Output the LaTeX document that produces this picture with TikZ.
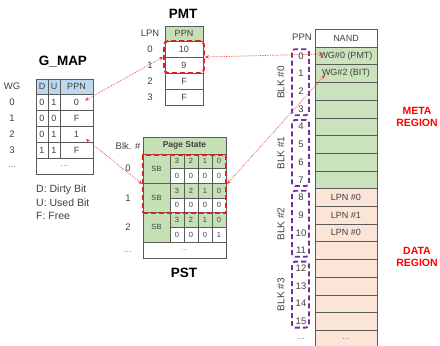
\documentclass[tikz,border=0pt]{standalone}
\usepackage{fontspec}
\setmainfont{Liberation Sans}
\usetikzlibrary{arrows.meta}
\definecolor{hdrgreen}{RGB}{197,224,180}
\definecolor{nandgreen}{RGB}{203,227,188}
\definecolor{hdrblue}{RGB}{189,215,238}
\definecolor{peach}{RGB}{251,229,214}
\definecolor{boxred}{RGB}{228,30,30}
\definecolor{arrred}{RGB}{232,60,60}
\definecolor{purp}{RGB}{112,48,160}
\definecolor{txt}{RGB}{64,64,64}
\definecolor{gridc}{RGB}{90,90,90}
\tikzset{
  cell/.style={draw=gridc, line width=0.6pt, inner sep=0pt, text=txt, font=\fontsize{9}{10}\selectfont},
  small/.style={font=\fontsize{7.5}{8}\selectfont},
  lbl/.style={inner sep=0pt, text=txt, font=\fontsize{9.5}{10}\selectfont},
  legend/.style={inner sep=0pt, text=txt, font=\fontsize{10.5}{12}\selectfont},
  nandtxt/.style={inner sep=0pt, text=txt, font=\fontsize{9}{10}\selectfont},
  title/.style={inner sep=0pt, font=\fontsize{13.5}{15}\selectfont\bfseries},
  region/.style={inner sep=0pt, text=red, font=\fontsize{10.5}{12}\selectfont\bfseries, align=center},
  reddash/.style={draw=boxred, line width=1.9pt, dash pattern=on 5pt off 3pt, inner sep=0pt},
  purpdash/.style={draw=purp, line width=1.8pt, dash pattern=on 5pt off 3pt, rounded corners=3pt, inner sep=0pt, minimum width=17pt, minimum height=66pt},
  biarrow/.style={draw=arrred, densely dotted, line width=0.7pt, {Stealth[length=4pt,width=3.6pt]}-{Stealth[length=4pt,width=3.6pt]}}
}
\begin{document}
\begin{tikzpicture}[x=1pt,y=-1pt]
\useasboundingbox[fill=white] (0,0) rectangle (440,346);

% ---------------- G_MAP ----------------
\node[title] (gtitle) at (63,62) {G\_MAP};
\node[lbl] (wg) at (12,86.5) {WG};
\node[cell, fill=hdrblue, minimum width=12pt, minimum height=15pt] (gD) at (42,86.5) {D};
\node[cell, fill=hdrblue, minimum width=12pt, minimum height=15pt] (gU) at (54,86.5) {U};
\node[cell, fill=hdrblue, minimum width=33pt, minimum height=15pt] (gP) at (76.5,86.5) {PPN};
\foreach \r/\d/\u/\p in {0/0/1/0, 1/0/0/F, 2/0/1/1, 3/1/1/F}{
  \node[lbl] (wg\r) at (12,{102+16*\r}) {\r};
  \node[cell, minimum width=12pt, minimum height=16pt] (gd\r) at (42,{102+16*\r}) {\d};
  \node[cell, minimum width=12pt, minimum height=16pt] (gu\r) at (54,{102+16*\r}) {\u};
  \node[cell, minimum width=33pt, minimum height=16pt] (gp\r) at (76.5,{102+16*\r}) {\p};
}
\node[lbl, text=gray] (wgdots) at (12,167) {...};
\node[cell, text=gray, minimum width=57pt, minimum height=16pt] (gdots) at (64.5,166) {...};
\node[legend, anchor=west] (leg1) at (36,190) {D: Dirty Bit};
\node[legend, anchor=west] (leg2) at (36,203) {U: Used Bit};
\node[legend, anchor=west] (leg3) at (36,216) {F: Free};

% ---------------- PMT ----------------
\node[title] (ptitle) at (183,14) {PMT};
\node[lbl] (lpn) at (150,33.5) {LPN};
\node[cell, fill=hdrgreen, minimum width=38pt, minimum height=15pt] (pH) at (184,33.5) {PPN};
\foreach \r/\v in {0/10, 1/9, 2/F, 3/F}{
  \node[lbl] (lpn\r) at (150,{49+16*\r}) {\r};
  \node[cell, fill=white, minimum width=38pt, minimum height=16pt] (pm\r) at (184,{49+16*\r}) {\v};
}
\node[reddash, rounded corners=4pt, minimum width=40pt, minimum height=32pt] (pmtbox) at (184,57) {};

% ---------------- PST ----------------
\node[lbl] (blk) at (128,146) {Blk. \#};
\node[cell, fill=hdrgreen, minimum width=83pt, minimum height=17pt, font=\fontsize{8.5}{9}\selectfont\bfseries] (psH) at (184.5,145.5) {Page State};
\foreach \b/\last in {0/0, 1/0, 2/1}{
  \node[lbl] (blk\b) at (128,{154+29.33*\b+14.67}) {\b};
  \node[cell, small, fill=hdrgreen, minimum width=27pt, minimum height=29.33pt] (sb\b) at (156.5,{154+29.33*\b+14.67}) {SB};
  \foreach \c/\t/\bot in {0/3/0, 1/2/0, 2/1/0, 3/0/\last}{
    \node[cell, small, fill=hdrgreen, minimum width=14pt, minimum height=14.67pt] (st\b\c) at ({177+14*\c},{154+29.33*\b+7.33}) {\t};
    \node[cell, small, fill=white, minimum width=14pt, minimum height=14.67pt] (sl\b\c) at ({177+14*\c},{154+29.33*\b+22}) {\bot};
  }
}
\node[lbl, text=gray] (blkdots) at (128,252) {...};
\node[cell, small, text=gray, fill=white, minimum width=83pt, minimum height=16pt] (psdots) at (184.5,250) {...};
\node[reddash, minimum width=83pt, minimum height=58pt] (pstbox) at (184.5,184) {};
\node[title] (pstitle) at (184,273) {PST};

% ---------------- NAND ----------------
\node[lbl] (ppnlbl) at (302,37) {PPN};
\node[cell, fill=white, minimum width=62pt, minimum height=18pt] (nH) at (346,38) {NAND};
\foreach \k in {0,...,15}{
  \pgfmathsetmacro{\yc}{47+17.7*\k+8.85}
  \ifnum\k<8
    \node[cell, fill=nandgreen, minimum width=62pt, minimum height=17.7pt] (n\k) at (346,\yc) {};
  \else
    \node[cell, fill=peach, minimum width=62pt, minimum height=17.7pt] (n\k) at (346,\yc) {};
  \fi
  \node[lbl] (pp\k) at (301,\yc) {\k};
}
\node[cell, text=gray, fill=peach, minimum width=62pt, minimum height=17.7pt] (ndots) at (346,{47+17.7*16+8.85}) {...};
\node[lbl, text=gray] (ppdots) at (301,{47+17.7*16+8.85}) {...};
\node[nandtxt] at (n0) {WG\#0 (PMT)};
\node[nandtxt] at (n1) {WG\#2 (BIT)};
\node[nandtxt] at (n8) {LPN \#0};
\node[nandtxt] at (n9) {LPN \#1};
\node[nandtxt] at (n10) {LPN \#0};

\foreach \k in {0,1,2,3}{
  \node[purpdash] (blkbox\k) at (300.5,{47+70.8*\k+35.2}) {};
  \node[lbl, rotate=90, font=\fontsize{10}{11}\selectfont] (blkname\k) at (281,{47+70.8*\k+35.4}) {BLK \#\k};
}

\node[region] (meta) at (417,116.5) {META\\REGION};
\node[region] (data) at (417,256.5) {DATA\\REGION};

% ---------------- arrows ----------------
\coordinate (g0) at (85,100.5);
\coordinate (g2) at (86,139);
\coordinate (w0) at (323,54);
\coordinate (w2) at (325,75);
\draw[biarrow] (pmtbox.west) -- (g0);
\draw[biarrow] (pmtbox.east) -- (w0);
\draw[biarrow] (pstbox.east) -- (w2);
\draw[biarrow] (pstbox.west) -- (g2);
\end{tikzpicture}
\end{document}
